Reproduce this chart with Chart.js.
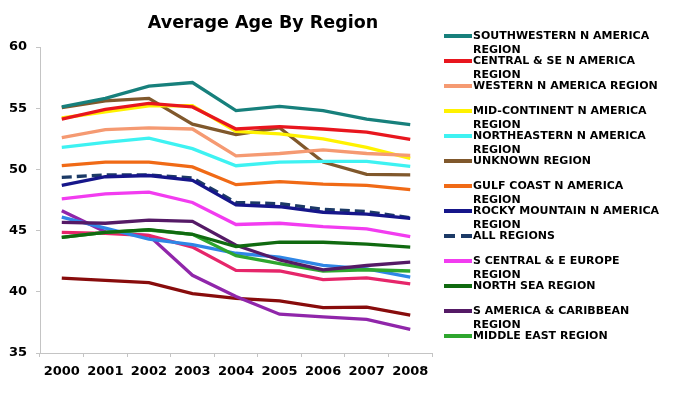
<!DOCTYPE html>
<html>
<head>
<meta charset="utf-8">
<script src="https://cdn.jsdelivr.net/npm/chart.js@4.4.1/dist/chart.umd.min.js"></script>
<style>
  html, body { margin: 0; padding: 0; background: #fff; }
  #wrap { position: relative; width: 688px; height: 420px; overflow: hidden; }
  #c { position: absolute; left: 0; top: 0; }
  #legend { position: absolute; left: 0; top: 0; width: 688px; height: 420px; pointer-events: none; }
  .item { position: absolute; left: 444px; width: 240px; }
  .sw { position: absolute; left: 0; top: 5px; width: 28px; height: 4px; }
  .txt { position: absolute; left: 29px; top: 0; width: 194px; font: bold 11px "DejaVu Sans", Verdana, sans-serif; line-height: 14px; color: #000; }
</style>
</head>
<body>
<div id="wrap">
  <canvas id="c" width="688" height="420"></canvas>
  <div id="legend"></div>
</div>
<script>
const years = ['2000','2001','2002','2003','2004','2005','2006','2007','2008'];
const yTicks = [35, 40, 45, 50, 55, 60];

const southwestern    = [55.1, 55.8, 56.8, 57.1, 54.8, 55.15, 54.8, 54.1, 53.65];
const centralSE       = [54.1, 54.9, 55.4, 55.1, 53.3, 53.5, 53.3, 53.05, 52.45];
const western         = [52.6, 53.25, 53.4, 53.3, 51.1, 51.3, 51.6, 51.3, 51.15];
const midContinent    = [54.2, 54.7, 55.2, 55.2, 53.1, 52.9, 52.5, 51.8, 50.9];
const northeastern    = [51.8, 52.2, 52.55, 51.7, 50.3, 50.6, 50.65, 50.65, 50.25];
const unknownRegion   = [55.05, 55.6, 55.8, 53.7, 52.85, 53.4, 50.6, 49.6, 49.55];
const gulfCoast       = [50.3, 50.6, 50.6, 50.2, 48.75, 49.0, 48.8, 48.7, 48.35];
const rockyMountain   = [48.7, 49.4, 49.5, 49.1, 47.1, 46.95, 46.5, 46.35, 46.0];
const allRegions      = [49.35, 49.55, 49.55, 49.3, 47.3, 47.2, 46.75, 46.55, 46.05];
const sCentralEurope  = [47.6, 48.0, 48.15, 47.3, 45.5, 45.6, 45.33, 45.14, 44.5];
const northSea        = [44.45, 44.85, 45.08, 44.7, 43.7, 44.05, 44.05, 43.9, 43.65];
const sAmerica        = [45.68, 45.6, 45.85, 45.75, 43.8, 42.6, 41.8, 42.15, 42.42];
const middleEast      = [44.45, 44.85, 45.05, 44.7, 42.95, 42.3, 41.7, 41.8, 41.7];
// further series drawn in the plot but not listed in the legend
const otherBlue       = [46.1, 45.2, 44.3, 43.85, 43.15, 42.83, 42.15, 41.88, 41.2];
const otherCrimson    = [44.85, 44.78, 44.6, 43.65, 41.75, 41.7, 41.0, 41.13, 40.65];
const otherPurple     = [46.63, 44.9, 44.6, 41.35, 39.62, 38.17, 37.95, 37.74, 36.93];
const otherDarkRed    = [41.12, 40.93, 40.75, 39.85, 39.46, 39.26, 38.7, 38.75, 38.1];

const seriesLabels = [
  'SOUTHWESTERN N AMERICA REGION', 'CENTRAL & SE N AMERICA REGION', 'WESTERN N AMERICA REGION',
  'MID-CONTINENT N AMERICA REGION', 'NORTHEASTERN N AMERICA REGION', 'UNKNOWN REGION',
  'GULF COAST N AMERICA REGION', 'ROCKY MOUNTAIN N AMERICA REGION', 'ALL REGIONS',
  'S CENTRAL & E EUROPE REGION', 'NORTH SEA REGION', 'S AMERICA & CARIBBEAN REGION',
  'MIDDLE EAST REGION', 'OTHER REGION A', 'OTHER REGION B', 'OTHER REGION C', 'OTHER REGION D'
];
const seriesValues = [
  southwestern, centralSE, western, midContinent, northeastern, unknownRegion,
  gulfCoast, rockyMountain, allRegions, sCentralEurope, northSea, sAmerica,
  middleEast, otherBlue, otherCrimson, otherPurple, otherDarkRed
];
const seriesColors = [
  '#17807c', '#e8161e', '#f59a72', '#fff200', '#3ef2f2', '#80582c',
  '#f06a16', '#16168a', '#1c3a66', '#f23cf0', '#106a10', '#551a66',
  '#2ea62e', '#2f86e6', '#e6266a', '#9026aa', '#880c0c'
];
const legendCount = 13;
const dashedIndex = 8;

const datasets = seriesValues.map((vals, i) => ({
  label: seriesLabels[i],
  data: vals,
  borderColor: seriesColors[i],
  backgroundColor: seriesColors[i],
  borderWidth: 3.3,
  borderDash: i === dashedIndex ? [10, 5] : [],
  pointRadius: 0,
  pointHoverRadius: 0,
  tension: 0,
  fill: false
}));

const axisColor = '#c4c4c4';
const chart = new Chart(document.getElementById('c'), {
  type: 'line',
  data: { labels: years, datasets },
  options: {
    responsive: false,
    animation: false,
    devicePixelRatio: 1,
    layout: { padding: { left: 0, right: 162, top: 0, bottom: 0 } },
    plugins: {
      legend: { display: false },
      tooltip: { enabled: false },
      title: {
        display: true,
        text: 'Average Age By Region',
        color: '#000',
        font: { family: '"DejaVu Sans", Verdana, sans-serif', size: 17.5, weight: 'bold' },
        padding: { top: 13, bottom: 13 }
      }
    },
    scales: {
      x: {
        type: 'category',
        offset: true,
        grid: { display: true, drawOnChartArea: false, drawTicks: true, tickLength: 4, color: axisColor, offset: true },
        border: { display: true, color: axisColor },
        ticks: { color: '#000', padding: 7, font: { family: '"DejaVu Sans", Verdana, sans-serif', size: 13, weight: 'bold' }, maxRotation: 0 },
        afterFit: s => { s.height = 67; }
      },
      y: {
        min: yTicks[0], max: yTicks[yTicks.length - 1],
        afterBuildTicks: s => { s.ticks = yTicks.map(v => ({ value: v })); },
        grid: { display: true, drawOnChartArea: false, drawTicks: true, tickLength: 4, color: axisColor },
        border: { display: true, color: axisColor },
        ticks: { color: '#000', padding: 9, font: { family: '"DejaVu Sans", Verdana, sans-serif', size: 13, weight: 'bold' } },
        afterFit: s => { s.width = 40; }
      },
      spacer: {
        type: 'linear', position: 'right', display: true,
        grid: { display: false, drawTicks: false }, border: { display: false },
        ticks: { display: false },
        afterFit: s => { s.width = 94; }
      }
    }
  }
});

// HTML legend built from the chart's datasets
const legendEl = document.getElementById('legend');
chart.data.datasets.slice(0, legendCount).forEach((ds, i) => {
  const item = document.createElement('div');
  item.className = 'item';
  item.style.top = (35.7 + 25.03 * i - 7) + 'px';
  const sw = document.createElement('div');
  sw.className = 'sw';
  if (i === dashedIndex) {
    sw.style.background = 'repeating-linear-gradient(to right, ' + ds.borderColor + ' 0 11px, transparent 11px 17px)';
  } else {
    sw.style.background = ds.borderColor;
  }
  const tx = document.createElement('div');
  tx.className = 'txt';
  tx.textContent = ds.label;
  item.appendChild(sw);
  item.appendChild(tx);
  legendEl.appendChild(item);
});
</script>
</body>
</html>
